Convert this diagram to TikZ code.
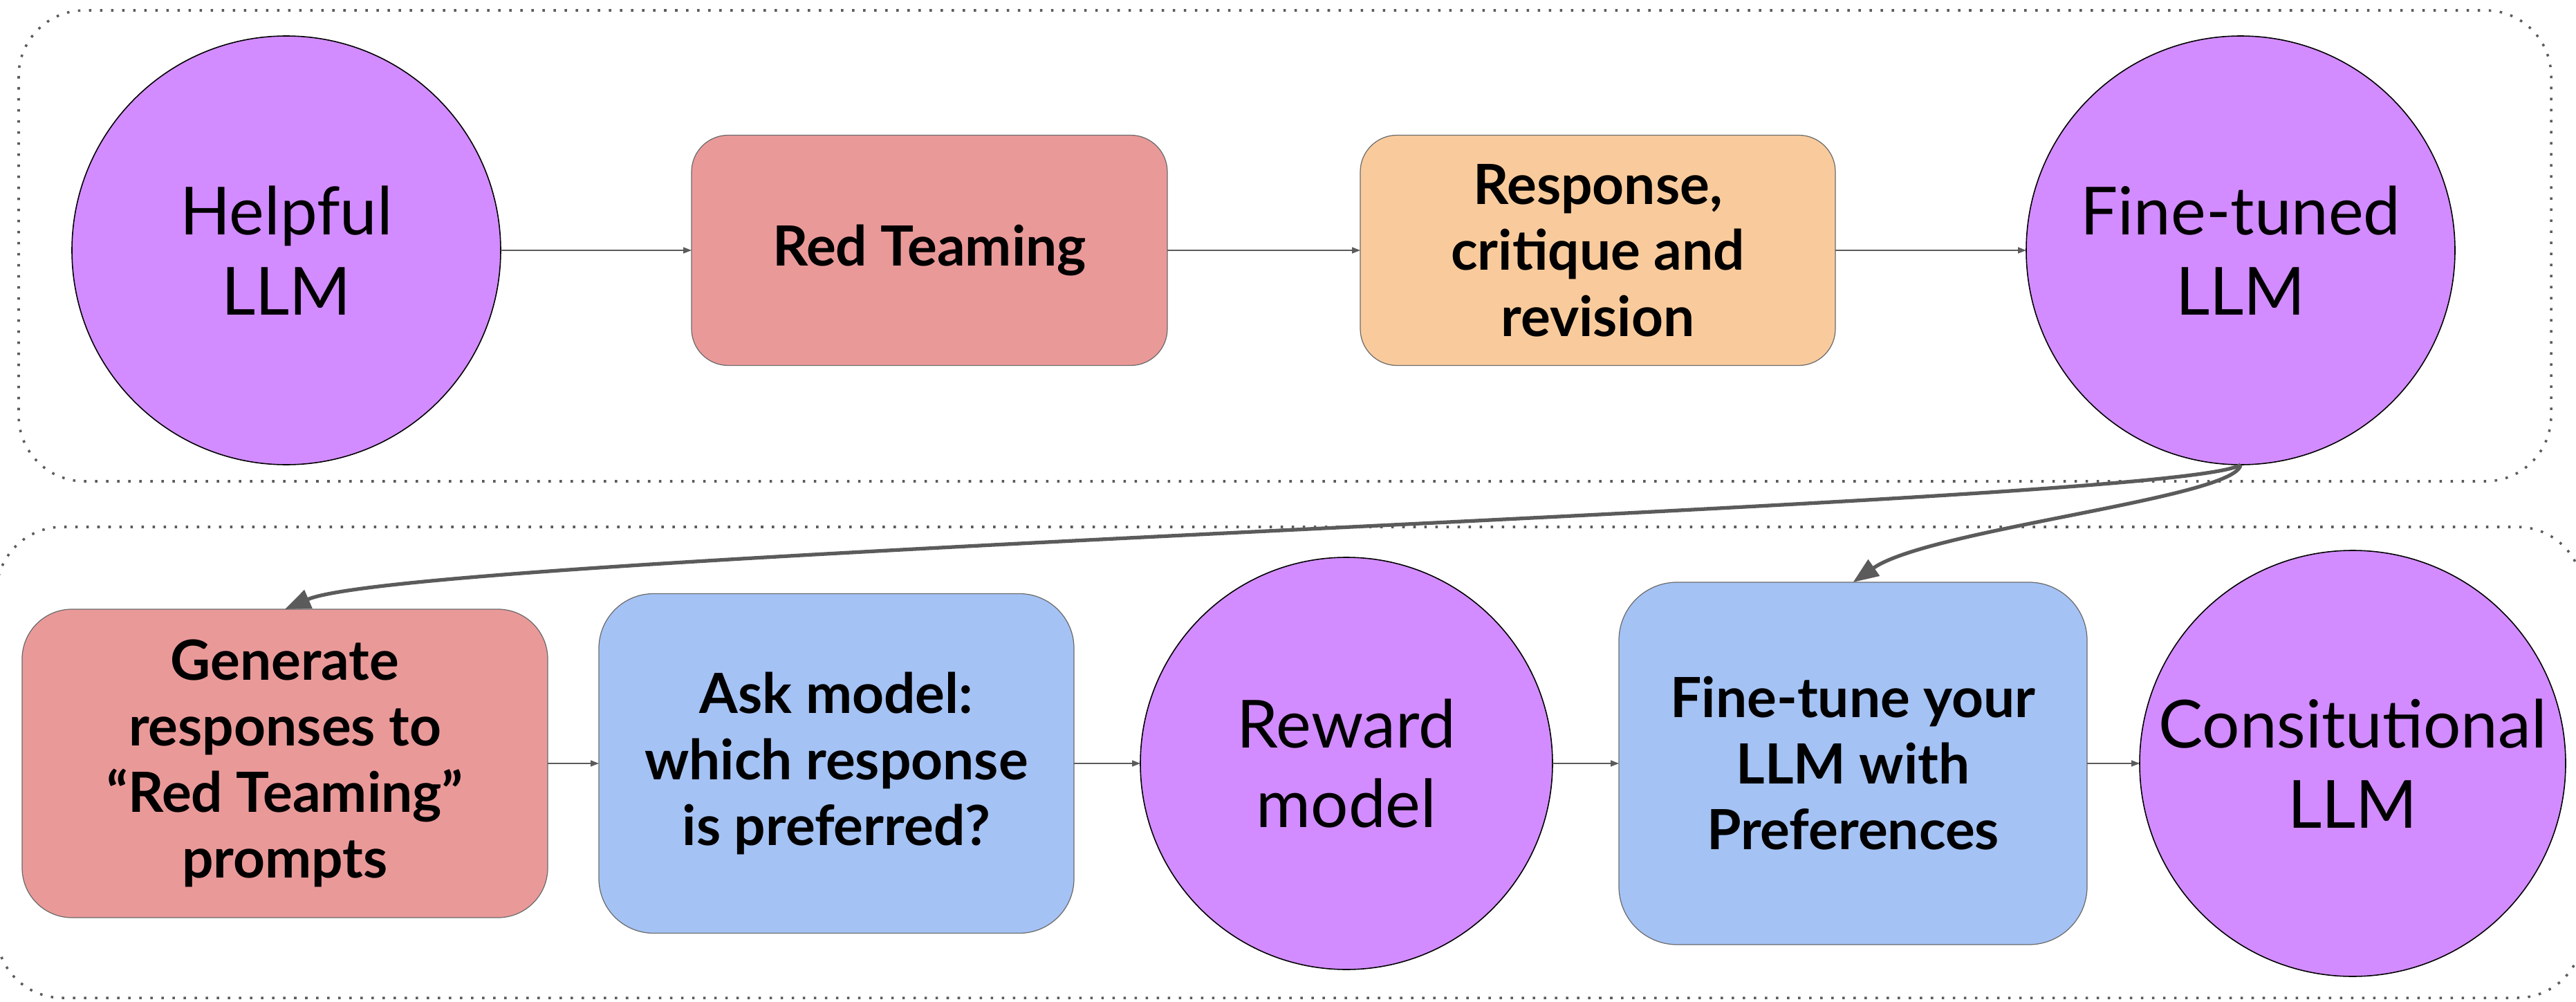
\documentclass[tikz,border=0pt]{standalone}
\usepackage{fontspec}
\setmainfont{Lato}
\usetikzlibrary{arrows.meta,positioning}

\definecolor{llmpurple}{HTML}{D28CFF}
\definecolor{redbox}{HTML}{EA9999}
\definecolor{orangebox}{HTML}{F9CB9C}
\definecolor{bluebox}{HTML}{A4C2F4}
\definecolor{linegray}{HTML}{5B5B5B}

\begin{document}
\begin{tikzpicture}[
    llm/.style={circle, draw=black, line width=0.45pt, fill=llmpurple,
                inner sep=0pt, outer sep=0pt, align=center,
                font=\fontsize{27.3}{33}\selectfont},
    stepbox/.style={rectangle, draw=linegray!90, line width=0.35pt,
                inner sep=0pt, outer sep=0pt, align=center,
                font=\bfseries\fontsize{22.8}{27.2}\selectfont},
    arrow/.style={-{Triangle[length=0.12cm, width=0.09cm]}, draw=linegray, line width=0.4pt},
    bigarrow/.style={-{Triangle[length=0.37cm, width=0.28cm]}, draw=linegray, line width=1.5pt},
    frame/.style={draw=linegray, line width=1pt, dash pattern=on 1pt off 3.55pt,
                rounded corners=0.95cm}
]
\useasboundingbox (0,0) rectangle (37.25,-14.49);

% stage 1: supervised
\draw[frame] (0.27,-0.15) rectangle (36.89,-6.96);
\node[llm, minimum size=6.2cm] (helpful) at (4.14,-3.62) {Helpful\\LLM};
\node[stepbox, fill=redbox, minimum width=6.88cm, minimum height=3.33cm,
      rounded corners=0.53cm, right=2.76cm of helpful] (redteam) {Red Teaming};
\node[stepbox, fill=orangebox, minimum width=6.87cm, minimum height=3.33cm,
      rounded corners=0.53cm, right=2.79cm of redteam] (revise) {Response,\\critique and\\revision};
\node[llm, minimum size=6.2cm, right=2.76cm of revise] (tuned) {Fine-tuned\\LLM};

\draw[arrow] (helpful) -- (redteam);
\draw[arrow] (redteam) -- (revise);
\draw[arrow] (revise) -- (tuned);

% stage 2: preferences
\draw[frame] (-0.05,-7.62) rectangle (37.35,-14.43);
\node[stepbox, fill=redbox, minimum width=7.6cm, minimum height=4.46cm,
      rounded corners=0.72cm] (gen) at (4.12,-11.04)
      {Generate\\responses to\\“Red Teaming”\\prompts};
\node[stepbox, fill=bluebox, minimum width=6.87cm, minimum height=4.91cm,
      rounded corners=0.79cm, right=0.74cm of gen] (ask) {Ask model:\\which response\\is preferred?};
\node[llm, minimum size=5.96cm, right=0.96cm of ask] (reward) {Reward\\model};
\node[stepbox, fill=bluebox, minimum width=6.77cm, minimum height=5.24cm,
      rounded corners=0.84cm, right=0.96cm of reward] (prefs) {Fine-tune your\\LLM with\\Preferences};
\node[llm, minimum size=6.16cm, right=0.76cm of prefs] (consti) {Consitutional\\LLM};

\draw[arrow] (gen) -- (ask);
\draw[arrow] (ask) -- (reward);
\draw[arrow] (reward) -- (prefs);
\draw[arrow] (prefs) -- (consti);

\draw[bigarrow] (tuned.south) .. controls (31.6,-7.3) and (6.0,-8.0) .. (gen.north);
\draw[bigarrow] (tuned.south) .. controls (32.35,-7.2) and (27.9,-7.65) .. (prefs.north);
\end{tikzpicture}
\end{document}
